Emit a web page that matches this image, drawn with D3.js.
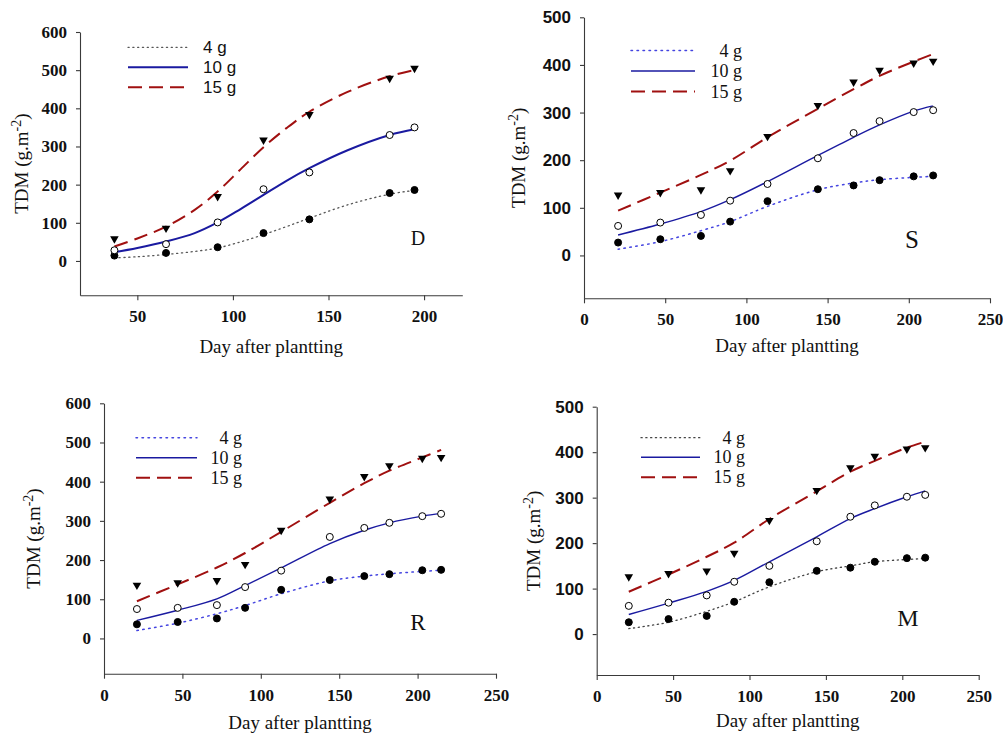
<!DOCTYPE html>
<html><head><meta charset="utf-8">
<script src="https://cdn.jsdelivr.net/npm/d3@7"></script>
<style>body{margin:0;background:#fff}svg{display:block}</style>
</head><body>
<script>
// ---------- DATA ----------
const seriesNames = ["4 g", "10 g", "15 g"];

// Panel D
const daysD = [38, 65, 92, 116, 140, 182, 195];
const obsD_4  = [14, 21, 36, 73, 109, 178, 186];
const obsD_10 = [28, 44, 101, 188, 232, 330, 350];
const obsD_15 = [58, 86, 169, 317, 384, 479, 505];
const fitDaysD = [38, 50, 65, 80, 92, 104, 116, 128, 140, 160, 182, 195];
const fitD_4  = [8, 11, 17, 25, 34, 50, 69, 90, 112, 147, 175, 185];
const fitD_10 = [23, 34, 51, 73, 101, 136, 173, 210, 243, 290, 330, 345];
const fitD_15 = [38, 59, 90, 134, 182, 240, 298, 348, 391, 443, 484, 500];

// Panels S, R, M share sampling days
const daysSRM = [21, 47, 72, 90, 113, 144, 166, 182, 203, 215];

// Panel S
const obsS_4  = [27, 34, 41, 71, 114, 139, 147, 158, 166, 168];
const obsS_10 = [62, 69, 85, 115, 150, 204, 257, 282, 301, 305];
const obsS_15 = [127, 132, 138, 178, 250, 315, 364, 389, 404, 408];
const fitS_4  = [13, 29, 52, 71, 103, 138, 152, 159, 164, 166];
const fitS_10 = [43, 66, 92, 117, 155, 210, 248, 274, 303, 314];
const fitS_15 = [94, 132, 169, 199, 248, 308, 349, 377, 407, 423];

// Panel R
const obsR_4  = [36, 42, 51, 78, 124, 149, 159, 164, 174, 175];
const obsR_10 = [75, 78, 85, 131, 173, 259, 282, 295, 312, 318];
const obsR_15 = [136, 142, 148, 189, 276, 356, 413, 441, 460, 462];
const fitR_4  = [20, 39, 63, 84, 114, 147, 159, 165, 171, 174];
const fitR_10 = [46, 72, 101, 135, 180, 242, 276, 295, 312, 319];
const fitR_15 = [95, 138, 181, 218, 272, 346, 396, 428, 462, 481];

// Panel M
const obsM_4  = [26, 33, 40, 71, 114, 139, 146, 159, 167, 168];
const obsM_10 = [62, 69, 85, 115, 150, 204, 258, 283, 302, 306];
const obsM_15 = [126, 133, 139, 178, 250, 316, 366, 391, 407, 410];
const fitM_4  = [12, 26, 50, 71, 104, 137, 150, 159, 164, 166];
const fitM_10 = [43, 68, 94, 118, 159, 214, 254, 276, 302, 315];
const fitM_15 = [93, 131, 170, 201, 253, 314, 357, 381, 410, 423];

const ticksXD = [50, 100, 150, 200];
const ticksX = [0, 50, 100, 150, 200, 250];
const ticksY600 = [0, 100, 200, 300, 400, 500, 600];
const ticksY500 = [0, 100, 200, 300, 400, 500];
const panelLetters = ["D", "S", "R", "M"];

// ---------- LAYOUT / STYLE ----------
const SERIF = "'Liberation Serif','Times New Roman',serif";
const SANS = "'Liberation Sans',Arial,sans-serif";
const BLUE = "#1a1aa0", RED = "#a01010";

const panels = [
  { letter: panelLetters[0], xDom: [20, 220], xR: [80, 462.3], yDom: [-90, 600], yR: [295.3, 32],
    xt: ticksXD, yt: ticksY600, yFont: SERIF, days: daysD, fitDays: fitDaysD,
    obs: [obsD_4, obsD_10, obsD_15], fit: [fitD_4, fitD_10, fitD_15],
    dot: { c: "#555", w: 1.3, d: "1.2,3.6" }, blueW: 2,
    leg: { x1: 128, x2: 188, ys: [47.3, 67.3, 87.3], tx: 203, anchor: "start", font: SANS, size: 17 },
    lab: { x: 418, y: 245, size: 20 }, yTitleX: 28, xTitleY: 353 },
  { letter: panelLetters[1], xDom: [0, 250], xR: [584, 990], yDom: [-90, 500], yR: [298.3, 17.3],
    xt: ticksX, yt: ticksY500, yFont: SANS, days: daysSRM, fitDays: daysSRM,
    obs: [obsS_4, obsS_10, obsS_15], fit: [fitS_4, fitS_10, fitS_15],
    dot: { c: "#4444e0", w: 1.5, d: "1.5,4.5" }, blueW: 1.4,
    leg: { x1: 631, x2: 695, ys: [50.5, 71, 91.5], tx: 742, anchor: "end", font: SERIF, size: 18 },
    lab: { x: 912, y: 248, size: 25 }, yTitleX: 525, xTitleY: 352 },
  { letter: panelLetters[2], xDom: [0, 250], xR: [104, 496], yDom: [-90, 600], yR: [673.7, 403.3],
    xt: ticksX, yt: ticksY600, yFont: SERIF, days: daysSRM, fitDays: daysSRM,
    obs: [obsR_4, obsR_10, obsR_15], fit: [fitR_4, fitR_10, fitR_15],
    dot: { c: "#4444e0", w: 1.5, d: "1.5,4.5" }, blueW: 1.4,
    leg: { x1: 136, x2: 197, ys: [437.7, 457.7, 477.7], tx: 242, anchor: "end", font: SERIF, size: 18 },
    lab: { x: 418, y: 630, size: 23 }, yTitleX: 40, xTitleY: 729 },
  { letter: panelLetters[3], xDom: [0, 250], xR: [596.7, 978.7], yDom: [-90, 500], yR: [675, 406.7],
    xt: ticksX, yt: ticksY500, yFont: SANS, days: daysSRM, fitDays: daysSRM,
    obs: [obsM_4, obsM_10, obsM_15], fit: [fitM_4, fitM_10, fitM_15],
    dot: { c: "#444", w: 1.3, d: "1.2,3.6" }, blueW: 1.4,
    leg: { x1: 641, x2: 700, ys: [437.7, 457.3, 477.3], tx: 745, anchor: "end", font: SERIF, size: 18 },
    lab: { x: 908, y: 626, size: 24 }, yTitleX: 540, xTitleY: 727 }
];

const svg = d3.select("body").append("svg").attr("width", 1003).attr("height", 734);

panels.forEach(p => {
  const g = svg.append("g");
  const x = d3.scaleLinear().domain(p.xDom).range(p.xR);
  const y = d3.scaleLinear().domain(p.yDom).range(p.yR);

  // axes
  const xa = g.append("g").attr("transform", `translate(0,${p.yR[0]})`)
    .call(d3.axisBottom(x).tickValues(p.xt).tickSize(5).tickSizeOuter(0).tickPadding(10));
  const ya = g.append("g").attr("transform", `translate(${p.xR[0]},0)`)
    .call(d3.axisLeft(y).tickValues(p.yt).tickSize(4).tickSizeOuter(0).tickPadding(9));
  [xa, ya].forEach(a => {
    a.selectAll("path,line").attr("stroke", "#3a3a3a").attr("stroke-width", 1.1);
  });
  xa.selectAll("text").attr("font-family", SERIF).attr("font-weight", "bold")
    .attr("font-size", 17).attr("fill", "#111").attr("dy", "0.71em");
  ya.selectAll("text").attr("font-family", p.yFont).attr("font-weight", "bold")
    .attr("font-size", 17).attr("fill", "#111");

  // titles
  const cx = (p.xR[0] + p.xR[1]) / 2;
  g.append("text").attr("x", cx).attr("y", p.xTitleY).attr("text-anchor", "middle")
    .attr("font-family", SERIF).attr("font-size", 19).attr("fill", "#111").text("Day after plantting");
  const cy = (p.yR[0] + p.yR[1]) / 2;
  const yt = g.append("text").attr("transform", `translate(${p.yTitleX},${cy}) rotate(-90)`)
    .attr("text-anchor", "middle").attr("font-family", SERIF).attr("font-size", 19).attr("fill", "#111");
  yt.append("tspan").text("TDM (g.m");
  yt.append("tspan").attr("dy", -7).attr("font-size", 14).text("-2");
  yt.append("tspan").attr("dy", 7).text(")");

  // fitted lines
  const styles = [
    { c: p.dot.c, w: p.dot.w, d: p.dot.d },
    { c: BLUE, w: p.blueW, d: null },
    { c: RED, w: 2, d: "14,7" }
  ];
  const line = d3.line().x(d => x(d[0])).y(d => y(d[1])).curve(d3.curveCatmullRom.alpha(0.5));
  p.fit.forEach((vals, i) => {
    g.append("path").datum(p.fitDays.map((d, k) => [d, vals[k]]))
      .attr("d", line).attr("fill", "none").attr("stroke", styles[i].c)
      .attr("stroke-width", styles[i].w).attr("stroke-dasharray", styles[i].d)
      .attr("stroke-linecap", i === 0 ? "round" : "butt");
  });

  // observed markers
  const tri = d3.symbol().type(d3.symbolTriangle).size(32);
  p.obs.forEach((vals, i) => {
    const pts = p.days.map((d, k) => [d, vals[k]]);
    if (i === 2) {
      g.selectAll(null).data(pts).enter().append("path")
        .attr("d", tri).attr("fill", "#000")
        .attr("transform", d => `translate(${x(d[0])},${y(d[1])}) rotate(180)`);
    } else {
      g.selectAll(null).data(pts).enter().append("circle")
        .attr("cx", d => x(d[0])).attr("cy", d => y(d[1])).attr("r", 3.5)
        .attr("fill", i === 0 ? "#000" : "#fff").attr("stroke", "#000").attr("stroke-width", 1);
    }
  });

  // legend
  seriesNames.forEach((name, i) => {
    const yy = p.leg.ys[i];
    g.append("line").attr("x1", p.leg.x1).attr("x2", p.leg.x2).attr("y1", yy).attr("y2", yy)
      .attr("stroke", styles[i].c).attr("stroke-width", styles[i].w)
      .attr("stroke-dasharray", styles[i].d).attr("stroke-linecap", i === 0 ? "round" : "butt");
    g.append("text").attr("x", p.leg.tx).attr("y", yy + 6).attr("text-anchor", p.leg.anchor)
      .attr("font-family", p.leg.font).attr("font-size", p.leg.size).attr("fill", "#111").text(name);
  });

  // panel letter
  g.append("text").attr("x", p.lab.x).attr("y", p.lab.y).attr("text-anchor", "middle")
    .attr("font-family", SERIF).attr("font-size", p.lab.size).attr("fill", "#111").text(p.letter);
});
</script>
</body></html>
